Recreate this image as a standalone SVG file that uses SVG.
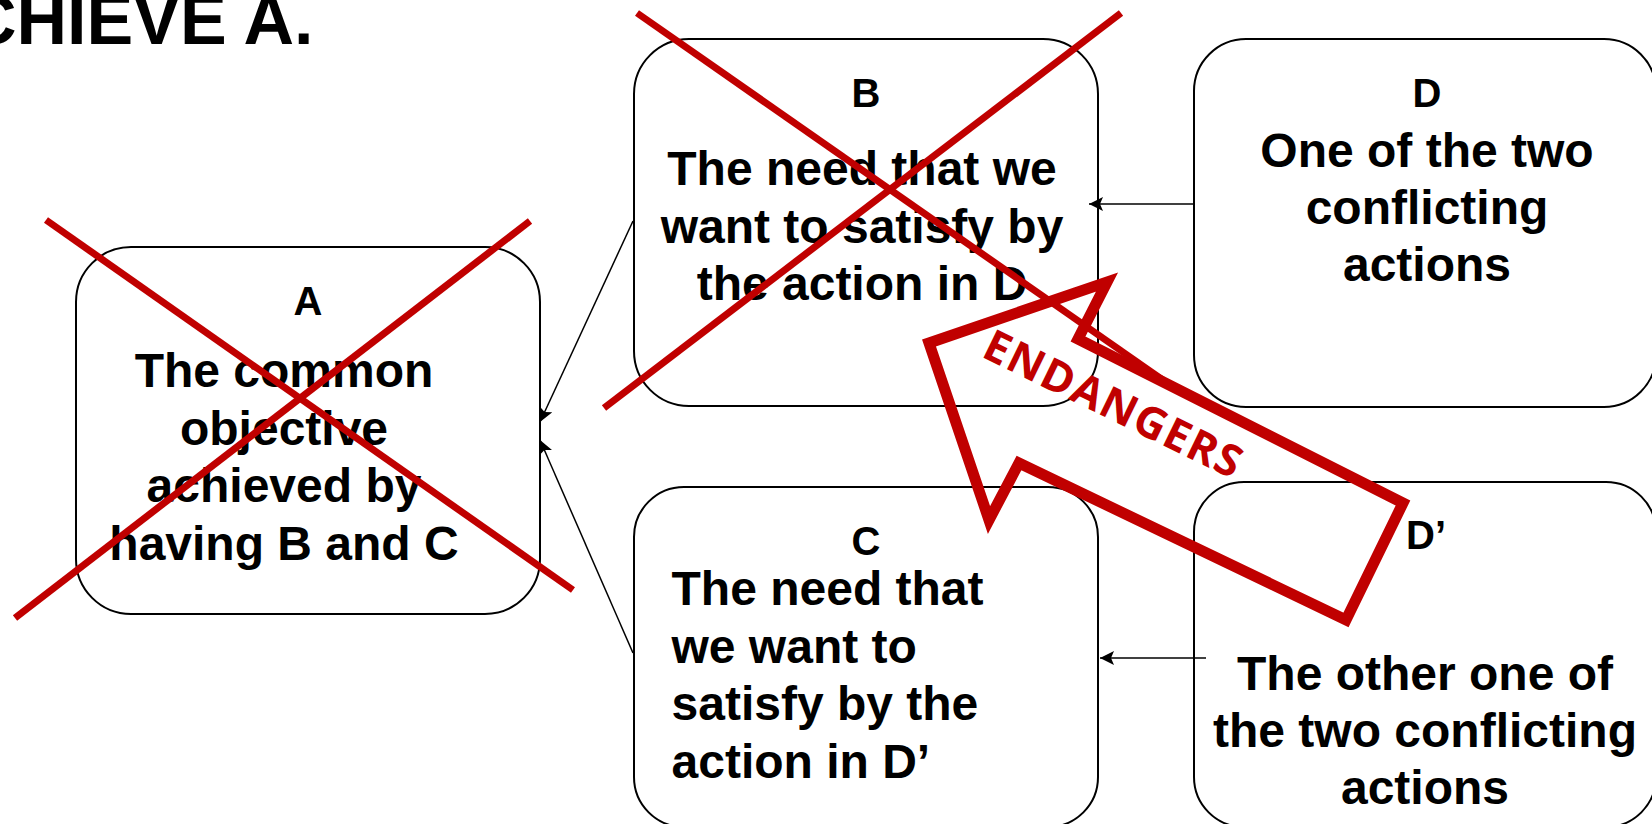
<svg xmlns="http://www.w3.org/2000/svg" width="1652" height="824" viewBox="0 0 1652 824">
  <defs>
    <marker id="arr" viewBox="0 0 14 14" markerWidth="14" markerHeight="14" refX="14" refY="7" orient="auto" markerUnits="userSpaceOnUse">
      <path d="M0,0 L14,7 L0,14 L3,7 z" fill="#000"/>
    </marker>
    <style>
      .box { fill: #fff; stroke: #000; stroke-width: 2; }
      .lbl { font-family: "Liberation Sans", Arial, sans-serif; font-weight: bold; font-size: 40px; fill: #000; text-anchor: middle; }
      .txt { font-family: "Liberation Sans", Arial, sans-serif; font-weight: bold; font-size: 48px; fill: #000; }
      .mid { text-anchor: middle; }
      .conn { stroke: #000; stroke-width: 1.5; fill: none; marker-end: url(#arr); }
      .cross { stroke: #C00000; stroke-width: 7; fill: none; }
      .bigarrow { stroke: #C00000; stroke-width: 11; fill: none; stroke-linejoin: miter; stroke-miterlimit: 10; }
      .warn { font-family: "Open Sans", "Noto Sans", sans-serif; font-weight: bold; font-size: 44px; fill: #C00000; letter-spacing: 1.5px; text-anchor: middle; }
    </style>
  </defs>
  <rect x="0" y="0" width="1652" height="824" fill="#fff"/>

  <g id="title">
    <text x="-34" y="43.5" style="font-family: 'Liberation Sans', Arial, sans-serif; font-weight: bold; font-size: 70px; fill: #000;">CHIEVE A.</text>
  </g>

  <g id="node-A">
    <rect class="box" x="76" y="247" width="464" height="367" rx="55" ry="55"/>
    <text class="lbl" x="308" y="315">A</text>
    <text class="txt mid" x="284" y="387">The common</text>
    <text class="txt mid" x="284" y="444.5">objective</text>
    <text class="txt mid" x="284" y="502">achieved by</text>
    <text class="txt mid" x="284" y="559.5">having B and C</text>
  </g>

  <g id="node-B">
    <rect class="box" x="634" y="39" width="464" height="367" rx="55" ry="55"/>
    <text class="lbl" x="866" y="107">B</text>
    <text class="txt mid" x="862" y="185">The need that we</text>
    <text class="txt mid" x="862" y="242.5">want to satisfy by</text>
    <text class="txt mid" x="862" y="300">the action in D</text>
  </g>

  <g id="node-D">
    <rect class="box" x="1194" y="39" width="462" height="368" rx="52" ry="52"/>
    <text class="lbl" x="1427" y="107">D</text>
    <text class="txt mid" x="1427" y="166.5">One of the two</text>
    <text class="txt mid" x="1427" y="223.5">conflicting</text>
    <text class="txt mid" x="1427" y="280.5">actions</text>
  </g>

  <g id="node-C">
    <rect class="box" x="634" y="487" width="464" height="340" rx="50" ry="50"/>
    <text class="lbl" x="866" y="555">C</text>
    <text class="txt" x="671.5" y="605">The need that</text>
    <text class="txt" x="671.5" y="662.5">we want to</text>
    <text class="txt" x="671.5" y="720">satisfy by the</text>
    <text class="txt" x="671.5" y="778">action in D’</text>
  </g>

  <g id="node-Dprime">
    <rect class="box" x="1194" y="482" width="462" height="345" rx="50" ry="50"/>
    <text class="lbl" x="1426" y="549">D’</text>
    <text class="txt mid" x="1425" y="690">The other one of</text>
    <text class="txt mid" x="1425" y="747">the two conflicting</text>
    <text class="txt mid" x="1425" y="803.5">actions</text>
  </g>

  <g id="connectors">
    <line class="conn" x1="1194" y1="204" x2="1089" y2="204"/>
    <line class="conn" x1="1206" y1="658" x2="1100" y2="658"/>
    <line class="conn" x1="633" y1="221" x2="540" y2="422"/>
    <line class="conn" x1="633" y1="653" x2="540" y2="440"/>
  </g>

  <g id="cross-A">
    <line class="cross" x1="46" y1="220" x2="573" y2="590"/>
    <line class="cross" x1="530" y1="221" x2="15" y2="618"/>
  </g>

  <g id="cross-B">
    <line class="cross" x1="637" y1="13" x2="1163" y2="380"/>
    <line class="cross" x1="1121" y1="13" x2="604" y2="408"/>
  </g>

  <g id="endangers">
    <polygon class="bigarrow" points="929,343 1107,282 1078,339 1403,503 1346,620 1019,463 989,520"/>
    <text class="warn" x="1107" y="418" transform="rotate(26 1107 418)">ENDANGERS</text>
  </g>
</svg>
